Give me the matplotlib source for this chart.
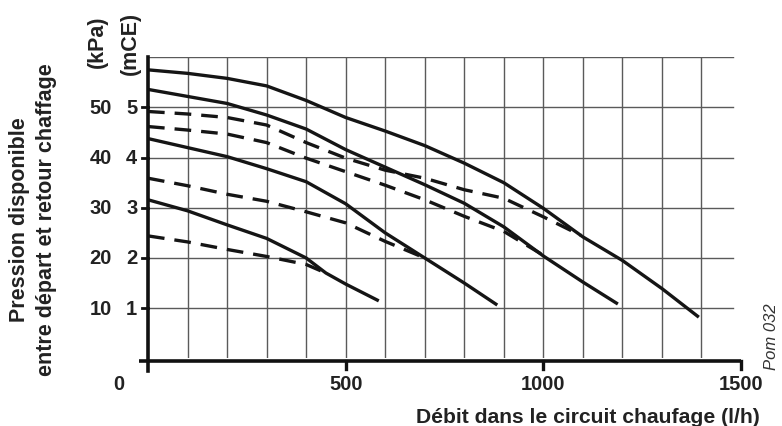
import matplotlib
matplotlib.use("Agg")
import matplotlib.pyplot as plt

plt.rcParams['font.family'] = ['Liberation Sans', 'DejaVu Sans']

# débit (l/h) et pression disponible (mCE) lus sur le graphique
# courbes pleines
flow_a = [0, 100, 200, 300, 400, 500, 600, 700, 800, 900, 1000, 1100, 1200, 1300, 1390]
head_a = [5.75, 5.68, 5.58, 5.43, 5.14, 4.80, 4.53, 4.24, 3.89, 3.50, 2.99, 2.42, 1.95, 1.39, 0.84]

flow_b = [0, 100, 200, 300, 400, 500, 600, 700, 800, 900, 1000, 1100, 1185]
head_b = [5.36, 5.22, 5.08, 4.85, 4.57, 4.16, 3.81, 3.46, 3.09, 2.62, 2.04, 1.52, 1.10]

flow_c = [0, 100, 200, 300, 400, 500, 600, 700, 800, 880]
head_c = [4.38, 4.20, 4.02, 3.78, 3.52, 3.08, 2.50, 2.00, 1.50, 1.08]

flow_d = [0, 100, 200, 300, 400, 450, 500, 580]
head_d = [3.16, 2.94, 2.66, 2.39, 2.00, 1.70, 1.48, 1.16]

# courbes en pointillés
flow_e = [0, 100, 200, 300, 400, 500, 600, 700, 800, 900, 1000, 1095]
head_e = [4.92, 4.87, 4.80, 4.65, 4.30, 3.99, 3.75, 3.59, 3.36, 3.19, 2.82, 2.45]

flow_f = [0, 100, 200, 300, 400, 500, 600, 700, 800, 900, 1005]
head_f = [4.62, 4.55, 4.47, 4.30, 3.99, 3.72, 3.45, 3.16, 2.83, 2.53, 2.03]

flow_g = [0, 100, 200, 300, 400, 500, 600, 700]
head_g = [3.59, 3.44, 3.27, 3.13, 2.92, 2.70, 2.33, 2.00]

flow_h = [0, 100, 200, 300, 400, 450]
head_h = [2.44, 2.32, 2.17, 2.03, 1.87, 1.70]

mce_ticks = [1, 2, 3, 4, 5]
mce_labels = ["1", "2", "3", "4", "5"]
kpa_labels = ["10", "20", "30", "40", "50"]
x_ticks = [500, 1000, 1500]
x_labels = ["500", "1000", "1500"]

W, H = 782, 427
fig = plt.figure(figsize=(W / 100, H / 100), dpi=100)
ax = fig.add_axes([148 / W, 67.7 / H, 593 / W, 301 / H])
ax.set_xlim(0, 1500)
ax.set_ylim(0, 6)
ax.axis('off')

def px(x, y):
    return x / W, 1 - y / H

# grille
grid_col = '#5a5a5a'
for gx in range(100, 1500, 100):
    ax.plot([gx, gx], [0, 6], color=grid_col, lw=1.0, zorder=1)
for gy in range(1, 7):
    ax.plot([0, 1480], [gy, gy], color=grid_col, lw=1.0, zorder=1)

# axes
ax.plot([0, 0], [-0.25, 6], color='#111', lw=2.6, clip_on=False, zorder=4)
ax.plot([-23, 1500], [-0.05, -0.05], color='#111', lw=2.6, clip_on=False,
        zorder=4, solid_capstyle='butt')
for t in x_ticks:
    ax.plot([t, t], [-0.05, -0.22], color='#111', lw=2.4, clip_on=False, zorder=4)
for t in mce_ticks:
    ax.plot([-16, 0], [t, t], color='#111', lw=2.0, clip_on=False, zorder=4)

# courbes
lw = 2.4
for fx, hy in [(flow_a, head_a), (flow_b, head_b), (flow_c, head_c), (flow_d, head_d)]:
    ax.plot(fx, hy, color='#151515', lw=lw, zorder=3, solid_joinstyle='round')
for fx, hy in [(flow_e, head_e), (flow_f, head_f), (flow_g, head_g), (flow_h, head_h)]:
    ax.plot(fx, hy, color='#151515', lw=lw, zorder=3, dashes=(5.0, 3.0))

# étiquettes des graduations
tick_fs = 14.5
lab_fs = 15.5
for t, m, k in zip(mce_ticks, mce_labels, kpa_labels):
    ax.text(-27, t, m, ha='right', va='center', fontsize=tick_fs,
            fontweight='bold', color='#222')
    ax.text(-91, t, k, ha='right', va='center', fontsize=tick_fs,
            fontweight='bold', color='#222')
for t, lab in zip(x_ticks, x_labels):
    ax.text(t, -0.51, lab, ha='center', va='center', fontsize=tick_fs,
            fontweight='bold', color='#222')

fig.text(*px(119, 385), "0", ha='center', va='center', fontsize=tick_fs,
         fontweight='bold', color='#222')
fig.text(*px(97, 42), "(kPa)", rotation=90, ha='center', va='center',
         fontsize=lab_fs, fontweight='bold', color='#222')
fig.text(*px(130, 43), "(mCE)", rotation=90, ha='center', va='center',
         fontsize=lab_fs, fontweight='bold', color='#222')
fig.text(*px(20, 220), "Pression disponible", rotation=90, ha='center',
         va='center', fontsize=lab_fs, fontweight='bold', color='#222')
fig.text(*px(47, 220), "entre départ et retour chaffage", rotation=90,
         ha='center', va='center', fontsize=lab_fs, fontweight='bold', color='#222')
fig.text(*px(760, 423), "Débit dans le circuit chaufage (l/h)", ha='right',
         va='baseline', fontsize=15.2, fontweight='bold', color='#222')
fig.text(*px(772, 337), "Pom 032", rotation=90, ha='center', va='center',
         fontsize=12, fontstyle='italic', color='#333')

fig.savefig("out.png", dpi=100)
